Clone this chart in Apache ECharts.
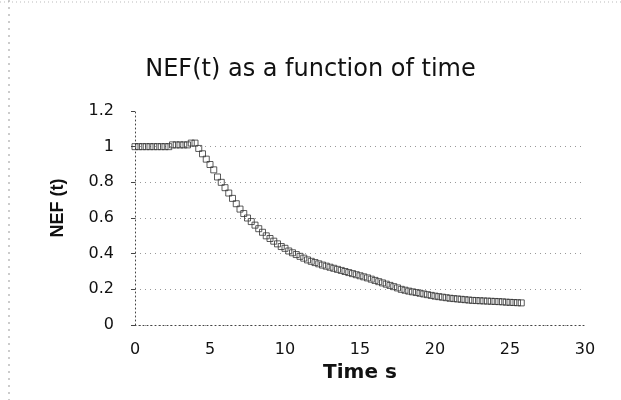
<!DOCTYPE html>
<html>
<head>
<meta charset="utf-8">
<title>NEF(t) as a function of time</title>
<script src="https://cdn.jsdelivr.net/npm/echarts@6/dist/echarts.min.js"></script>
<style>
  html, body { margin: 0; padding: 0; background: #fff; }
  #chart { width: 621px; height: 400px; }
</style>
</head>
<body>
<div id="chart"></div>
<script>
// Sampling times (s), 0.25 s apart
const timeStart = 0;
const timeStep = 0.25;

// NEF(t) samples, one per time step
const nefValues = [
  1.00, 1.00, 1.00, 1.00, 1.00, 1.00, 1.00, 1.00,
  1.00, 1.00, 1.01, 1.01, 1.01, 1.01, 1.01, 1.02,
  1.02, 0.99, 0.96, 0.93, 0.90, 0.87, 0.83, 0.80,
  0.77, 0.74, 0.71, 0.68, 0.65, 0.625, 0.60, 0.58,
  0.56, 0.54, 0.52, 0.50, 0.485, 0.47, 0.455, 0.44,
  0.43, 0.415, 0.405, 0.395, 0.385, 0.375, 0.365, 0.357,
  0.35, 0.343, 0.336, 0.33, 0.324, 0.318, 0.312, 0.306,
  0.30, 0.294, 0.288, 0.282, 0.276, 0.27, 0.264, 0.257,
  0.25, 0.243, 0.236, 0.229, 0.222, 0.215, 0.208, 0.20,
  0.195, 0.19, 0.186, 0.182, 0.178, 0.174, 0.17, 0.166,
  0.162, 0.159, 0.156, 0.153, 0.15, 0.148, 0.146, 0.144,
  0.142, 0.14, 0.138, 0.137, 0.136, 0.135, 0.134, 0.133,
  0.132, 0.131, 0.13, 0.128, 0.127, 0.126, 0.125, 0.124
];

const titleText = 'NEF(t) as a function of time';
const xAxisName = 'Time s';
const yAxisName = 'NEF (t)';

const points = nefValues.map((v, i) => [timeStart + i * timeStep, v]);

const chart = echarts.init(document.getElementById('chart'), null, { renderer: 'canvas' });

chart.setOption({
  backgroundColor: '#ffffff',
  animation: false,
  title: {
    text: titleText,
    left: 'center',
    top: 58,
    padding: [0, 0, 0, 15],
    textStyle: {
      fontFamily: 'DejaVu Sans',
      fontSize: 24,
      fontWeight: 'normal',
      color: '#111'
    }
  },
  grid: { left: 135, right: 36, top: 111, bottom: 75 },
  xAxis: {
    type: 'value',
    min: 0,
    max: 30,
    interval: 5,
    name: xAxisName,
    nameLocation: 'middle',
    nameGap: 22,
    nameTextStyle: {
      fontFamily: 'DejaVu Sans',
      fontSize: 20,
      fontWeight: 'bold',
      color: '#111'
    },
    axisLine: { show: true, lineStyle: { color: '#444', type: [1, 3], width: 1 } },
    axisTick: { show: false },
    axisLabel: {
      margin: 17,
      fontFamily: 'DejaVu Sans',
      fontSize: 16,
      color: '#111'
    },
    splitLine: { show: false }
  },
  yAxis: {
    type: 'value',
    min: 0,
    max: 1.2,
    interval: 0.2,
    name: yAxisName,
    nameLocation: 'middle',
    nameGap: 68,
    nameTextStyle: {
      fontFamily: 'Liberation Sans',
      fontSize: 18,
      fontWeight: 'bold',
      color: '#111',
      padding: [0, 0, 0, 20]
    },
    axisLine: { show: true, lineStyle: { color: '#444', type: [1, 3], width: 1 } },
    axisTick: { show: true, length: 4, lineStyle: { color: '#444' } },
    axisLabel: {
      margin: 21,
      fontFamily: 'DejaVu Sans',
      fontSize: 16,
      color: '#111'
    },
    splitLine: {
      show: true,
      showMaxLine: false,
      lineStyle: { color: '#999', type: [1, 4], width: 1 }
    }
  },
  graphic: [
    {
      type: 'line',
      shape: { x1: 0, y1: 2, x2: 621, y2: 2 },
      style: { stroke: '#bbb', lineWidth: 1, lineDash: [1, 3] },
      silent: true
    },
    {
      type: 'line',
      shape: { x1: 9, y1: 0, x2: 9, y2: 400 },
      style: { stroke: '#999', lineWidth: 1, lineDash: [2, 5] },
      silent: true
    }
  ],
  series: [
    {
      type: 'scatter',
      data: points,
      symbol: 'rect',
      symbolSize: 6,
      itemStyle: {
        color: 'rgba(255,255,255,0)',
        borderColor: '#333',
        borderWidth: 1
      }
    }
  ]
});
</script>
</body>
</html>
